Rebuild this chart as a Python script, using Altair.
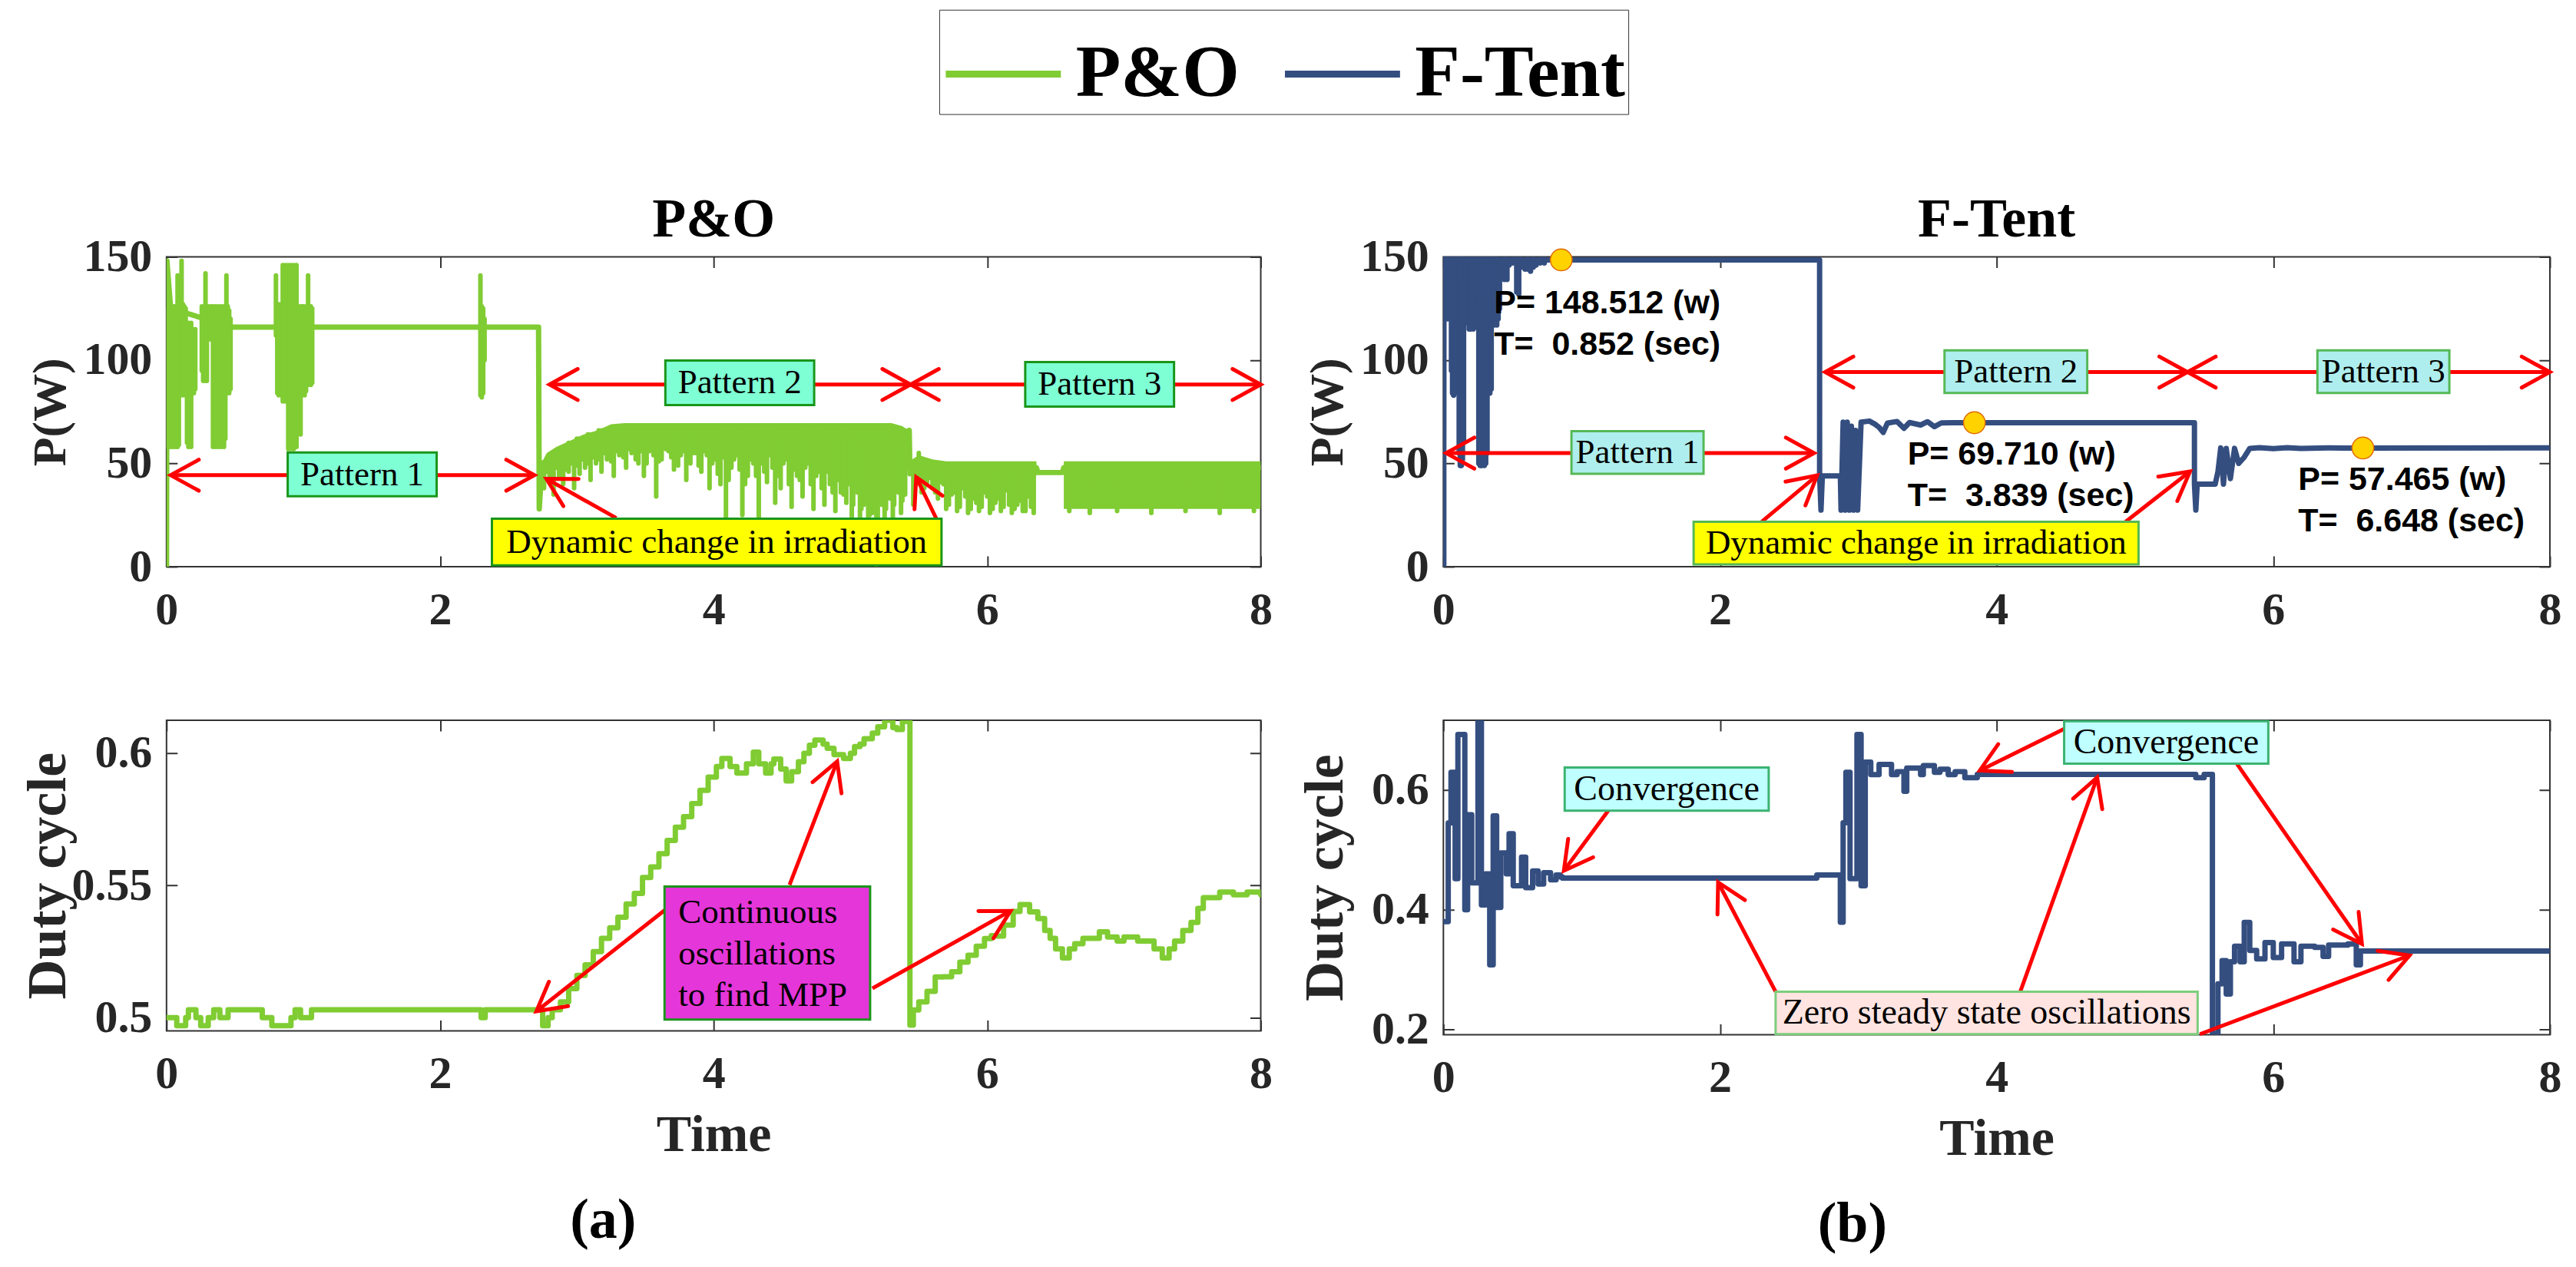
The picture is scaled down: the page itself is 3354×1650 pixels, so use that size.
import math
import altair as alt
import pandas as pd

# ---------------- data ----------------
SERIES = ["P&O", "F-Tent"]
X_TICKS = [0, 2, 4, 6, 8]
P_TICKS = [0, 50, 100, 150]
PO_D_TICKS = [0.5, 0.55, 0.6]
FT_D_TICKS = [0.2, 0.4, 0.6]
X_DOMAIN = [0, 8]
P_DOMAIN = [0, 150]
PO_D_DOMAIN = [0.495, 0.6125]
FT_D_DOMAIN = [0.191, 0.717]

# P&O power: main trace (t, W)
PO_P_LINE = [(0.0, 0), (0.003, 148), (0.03, 125), (0.48, 116), (2.72, 116), (2.725, 28),
             (2.745, 50), (3.3, 66), (5.4, 62), (5.43, 66), (5.435, 45), (5.5, 48),
             (6.36, 48), (6.37, 45.6), (6.55, 45.6), (6.56, 48), (8.0, 48)]
# P&O power: fast oscillation strokes (t, high, low)
PO_BURSTS = [
    (0.003, 148, 58), (0.012, 125, 58), (0.021, 126, 59), (0.030, 124, 58), (0.039, 126, 60),
    (0.048, 125, 58), (0.057, 126, 59), (0.066, 124, 58), (0.075, 126, 60), (0.081, 141, 58),
    (0.090, 125, 59), (0.100, 127, 83), (0.110, 148, 84), (0.120, 127, 83), (0.130, 126, 85),
    (0.140, 125, 83), (0.150, 118, 60), (0.160, 118, 58), (0.170, 117, 59), (0.180, 118, 58),
    (0.190, 115, 85), (0.200, 114, 84), (0.210, 115, 86), (0.258, 126, 95), (0.268, 125, 90),
    (0.278, 126, 92), (0.285, 142, 90), (0.295, 126, 90), (0.305, 126, 118), (0.315, 125, 110),
    (0.325, 126, 118), (0.340, 126, 58), (0.350, 125, 59), (0.360, 126, 58), (0.370, 124, 60),
    (0.380, 126, 58), (0.390, 125, 59), (0.400, 126, 58), (0.410, 124, 60), (0.420, 126, 58),
    (0.430, 125, 62), (0.438, 141, 84), (0.448, 126, 85), (0.458, 124, 84), (0.468, 120, 86),
    (0.800, 141, 112), (0.810, 126, 84), (0.820, 127, 83), (0.830, 126, 85), (0.840, 127, 83),
    (0.850, 146, 80), (0.860, 145, 82), (0.870, 146, 80), (0.880, 140, 81), (0.890, 146, 57),
    (0.900, 145, 58), (0.910, 146, 57), (0.920, 144, 60), (0.930, 146, 57), (0.940, 145, 59),
    (0.950, 146, 58), (0.960, 126, 80), (0.970, 126, 82), (0.980, 125, 64), (0.990, 126, 83),
    (1.000, 126, 84), (1.010, 125, 83), (1.020, 126, 85), (1.035, 141, 88), (1.045, 126, 90),
    (1.055, 126, 88), (1.065, 125, 89),
    (2.295, 141, 83), (2.305, 126, 82), (2.315, 125, 84), (2.325, 120, 100),
]
# P&O power: dense oscillation bands (segment, t, high, low)
PO_BANDS = [
    ("p2", 2.74, 50, 44), ("p2", 2.78, 55, 45), ("p2", 2.85, 58, 47), ("p2", 2.95, 61, 50),
    ("p2", 3.05, 64, 53), ("p2", 3.15, 66, 56), ("p2", 3.25, 69, 58), ("p2", 3.35, 69.5, 59),
    ("p2", 4.0, 69.5, 60), ("p2", 4.5, 69.5, 60), ("p2", 5.0, 69.5, 58), ("p2", 5.3, 69.5, 56),
    ("p2", 5.38, 68, 52), ("p2", 5.42, 66, 48),
    ("p3a", 5.43, 51, 44), ("p3a", 5.5, 54, 45), ("p3a", 5.6, 52, 44), ("p3a", 5.7, 51, 42),
    ("p3a", 6.0, 51, 40), ("p3a", 6.3, 51, 40), ("p3a", 6.36, 51, 44),
    ("p3b", 6.56, 51, 28), ("p3b", 7.0, 51, 28), ("p3b", 7.5, 51, 28), ("p3b", 8.0, 51, 28),
]
# P&O power: downward spikes (t, top, low)
PO_DIPS = [
    (2.76, 50, 38), (2.80, 52, 42), (2.83, 54, 35), (2.87, 56, 44), (2.90, 58, 40), (2.94, 60, 46),
    (2.98, 60, 38), (3.02, 62, 45), (3.06, 62, 48), (3.10, 64, 42), (3.14, 64, 50), (3.18, 66, 46),
    (3.22, 66, 52), (3.27, 66, 44), (3.31, 66, 54), (3.36, 66, 48), (3.40, 66, 55), (3.45, 66, 50),
    (3.49, 66, 44), (3.53, 66, 56), (3.58, 66, 34), (3.62, 66, 52), (3.67, 66, 56), (3.71, 66, 47),
    (3.76, 66, 54), (3.80, 66, 42), (3.85, 66, 55), (3.89, 66, 49), (3.93, 66, 56), (3.97, 66, 38),
    (4.01, 66, 52), (4.05, 66, 40), (4.09, 66, 24), (4.13, 66, 48), (4.17, 66, 54), (4.21, 66, 25),
    (4.25, 66, 44), (4.29, 66, 50), (4.33, 66, 23), (4.37, 66, 46), (4.41, 66, 54), (4.45, 66, 31),
    (4.49, 66, 38), (4.53, 66, 52), (4.57, 66, 29), (4.61, 66, 44), (4.65, 66, 34), (4.69, 66, 50),
    (4.73, 66, 28), (4.77, 66, 46), (4.81, 66, 30), (4.85, 66, 40), (4.89, 66, 27), (4.93, 66, 36),
    (4.97, 66, 31), (5.01, 66, 8), (5.04, 66, 42), (5.07, 66, 12), (5.10, 66, 30), (5.13, 66, 3),
    (5.16, 66, 26), (5.19, 66, 1), (5.22, 66, 34), (5.25, 66, 18), (5.28, 66, 38), (5.31, 66, 22),
    (5.34, 66, 40), (5.37, 66, 26), (5.40, 66, 35),
    (5.46, 48, 30), (5.50, 55, 42), (5.54, 48, 38), (5.58, 48, 43), (5.62, 48, 36), (5.66, 48, 41),
    (5.70, 48, 28), (5.74, 48, 35), (5.78, 48, 27), (5.82, 48, 38), (5.86, 48, 26), (5.90, 48, 33),
    (5.94, 48, 27), (5.98, 48, 36), (6.02, 48, 26), (6.06, 48, 31), (6.10, 48, 27), (6.14, 48, 37),
    (6.18, 48, 26), (6.22, 48, 30), (6.26, 48, 27), (6.30, 48, 34), (6.34, 48, 26),
    (6.60, 40, 27), (6.75, 40, 26), (6.95, 40, 27), (7.2, 40, 26), (7.45, 40, 27), (7.7, 40, 26),
    (7.95, 40, 27),
]
# P&O power: shallower spikes between the deep ones (t, top, low)
PO_DIPS2 = [
    (2.78, 52, 46), (2.85, 56, 48), (2.92, 58, 47), (2.96, 60, 50), (3.00, 62, 49), (3.04, 62, 52),
    (3.08, 64, 50), (3.12, 64, 53), (3.16, 66, 52), (3.20, 66, 55), (3.25, 66, 51), (3.29, 66, 56),
    (3.34, 66, 53), (3.38, 66, 57), (3.43, 66, 52), (3.47, 66, 56), (3.51, 66, 50), (3.56, 66, 54),
    (3.60, 66, 51), (3.65, 66, 57), (3.69, 66, 53), (3.74, 66, 49), (3.78, 66, 56), (3.83, 66, 50),
    (3.87, 66, 55), (3.91, 66, 46), (3.95, 66, 54), (3.99, 66, 50), (4.03, 66, 45), (4.07, 66, 53),
    (4.11, 66, 42), (4.15, 66, 52), (4.19, 66, 47), (4.23, 66, 40), (4.27, 66, 52), (4.31, 66, 44),
    (4.35, 66, 50), (4.39, 66, 41), (4.43, 66, 48), (4.47, 66, 44), (4.51, 66, 50), (4.55, 66, 40),
    (4.59, 66, 47), (4.63, 66, 42), (4.67, 66, 48), (4.71, 66, 40), (4.75, 66, 44), (4.79, 66, 38),
    (4.83, 66, 46), (4.87, 66, 36), (4.91, 66, 42), (4.95, 66, 35), (4.99, 66, 40), (5.02, 66, 30),
    (5.05, 66, 36), (5.08, 66, 28), (5.11, 66, 34), (5.14, 66, 25), (5.17, 66, 32), (5.20, 66, 24),
    (5.23, 66, 30), (5.26, 66, 28), (5.29, 66, 33), (5.32, 66, 30), (5.35, 66, 36), (5.38, 66, 32),
    (5.48, 48, 40), (5.52, 48, 36), (5.56, 48, 41), (5.60, 48, 38), (5.64, 48, 33), (5.68, 48, 40),
    (5.72, 48, 30), (5.76, 48, 36), (5.80, 48, 29), (5.84, 48, 34), (5.88, 48, 28), (5.92, 48, 31),
    (5.96, 48, 29), (6.00, 48, 34), (6.04, 48, 28), (6.08, 48, 33), (6.12, 48, 29), (6.16, 48, 30),
    (6.20, 48, 28), (6.24, 48, 32), (6.28, 48, 27), (6.32, 48, 29),
]

# P&O duty cycle (step-after: t, duty)
PO_DUTY = [
    (0.0, 0.5), (0.075, 0.497), (0.14, 0.5), (0.16, 0.503), (0.215, 0.5), (0.25, 0.497),
    (0.305, 0.5), (0.345, 0.503), (0.39, 0.5), (0.45, 0.503), (0.70, 0.5), (0.77, 0.497),
    (0.91, 0.5), (0.94, 0.503), (0.98, 0.5), (1.06, 0.503), (2.30, 0.5), (2.33, 0.503),
    (2.75, 0.497), (2.79, 0.5), (2.82, 0.503), (2.88, 0.506), (2.94, 0.511), (3.0, 0.516),
    (3.06, 0.52), (3.12, 0.525), (3.18, 0.53), (3.24, 0.534), (3.30, 0.538), (3.36, 0.543),
    (3.42, 0.547), (3.48, 0.553), (3.54, 0.557), (3.60, 0.562), (3.66, 0.567), (3.72, 0.572),
    (3.78, 0.576), (3.84, 0.581), (3.90, 0.586), (3.96, 0.591), (4.02, 0.595), (4.06, 0.598),
    (4.12, 0.595), (4.17, 0.5925), (4.24, 0.596), (4.29, 0.6004), (4.33, 0.596), (4.38, 0.5925),
    (4.42, 0.596), (4.44, 0.5978), (4.49, 0.594), (4.53, 0.5895), (4.57, 0.593), (4.62, 0.5968),
    (4.66, 0.6), (4.70, 0.603), (4.74, 0.605), (4.80, 0.6035), (4.83, 0.6019), (4.88, 0.5995),
    (4.95, 0.598), (5.0, 0.6), (5.03, 0.6025), (5.07, 0.6035), (5.10, 0.6055), (5.16, 0.6076),
    (5.20, 0.61), (5.25, 0.6125), (5.31, 0.6097), (5.34, 0.609), (5.38, 0.612), (5.435, 0.4972),
    (5.46, 0.5029), (5.50, 0.506), (5.56, 0.51), (5.62, 0.5154), (5.68, 0.5155), (5.74, 0.5174),
    (5.80, 0.521), (5.86, 0.5236), (5.92, 0.527), (5.98, 0.5299), (6.03, 0.531), (6.07, 0.5309),
    (6.12, 0.535), (6.19, 0.5402), (6.24, 0.5428), (6.31, 0.54), (6.37, 0.5375), (6.42, 0.533),
    (6.46, 0.53), (6.50, 0.526), (6.55, 0.5226), (6.60, 0.526), (6.64, 0.528), (6.70, 0.53),
    (6.82, 0.5325), (6.88, 0.5305), (6.95, 0.529), (7.0, 0.5305), (7.1, 0.529), (7.22, 0.526),
    (7.28, 0.5226), (7.33, 0.526), (7.37, 0.529), (7.43, 0.533), (7.49, 0.536), (7.54, 0.5413),
    (7.58, 0.5454), (7.70, 0.5475), (7.80, 0.5465), (7.90, 0.5475), (8.0, 0.5465),
]

# F-Tent power: early search strokes (t, high, low)
FT_BURSTS = [
    (0.003, 149, 0), (0.012, 149, 140), (0.022, 149, 125), (0.030, 149, 120), (0.040, 148, 140),
    (0.050, 149, 130), (0.058, 149, 95), (0.066, 148, 84), (0.074, 149, 83), (0.082, 148, 84),
    (0.090, 149, 86), (0.098, 148, 95), (0.106, 149, 120), (0.114, 149, 55), (0.122, 148, 49),
    (0.130, 149, 49), (0.138, 148, 52), (0.146, 149, 60), (0.156, 148, 145), (0.166, 149, 140),
    (0.176, 149, 118), (0.186, 148, 115), (0.196, 149, 115), (0.206, 148, 117), (0.216, 149, 115),
    (0.226, 148, 116), (0.236, 149, 118), (0.246, 148, 130), (0.256, 149, 50), (0.266, 148, 49),
    (0.276, 149, 49), (0.286, 148, 50), (0.296, 149, 49), (0.306, 148, 50), (0.316, 149, 55),
    (0.326, 148, 130), (0.336, 149, 84), (0.346, 148, 86), (0.356, 149, 117), (0.366, 148, 117),
    (0.376, 149, 118), (0.386, 148, 117), (0.396, 149, 120), (0.406, 148, 125), (0.420, 148, 145),
    (0.440, 149, 139), (0.450, 148, 140), (0.460, 149, 139), (0.475, 148, 146), (0.500, 149, 147),
    (0.530, 149, 133), (0.545, 148, 132), (0.560, 149, 145), (0.590, 148, 144), (0.610, 149, 144),
    (0.630, 148, 143), (0.650, 149, 145), (0.670, 148, 146), (0.700, 149, 147), (0.730, 149, 147),
]
# F-Tent power: main trace (t, W)
FT_P_LINE = [
    (0.0, 0), (0.003, 149), (0.3, 148.8), (0.76, 148.5), (2.72, 148.5), (2.72, 44), (2.73, 27.4),
    (2.74, 44), (2.87, 44), (2.875, 27.4), (2.89, 70), (2.905, 27.4), (2.92, 70), (2.935, 27.4),
    (2.95, 68), (2.965, 27.4), (2.98, 66), (2.995, 27.4), (3.02, 70), (3.08, 70.5), (3.12, 69),
    (3.15, 67.5), (3.18, 65), (3.21, 69.5), (3.28, 70.3), (3.33, 67), (3.37, 69.8), (3.45, 68.6),
    (3.5, 70.2), (3.55, 67.8), (3.6, 69.6), (3.7, 69.7), (5.43, 69.7), (5.43, 40), (5.44, 27.4),
    (5.45, 40), (5.58, 40), (5.60, 46), (5.62, 57.5), (5.64, 40), (5.66, 57.3), (5.69, 42.7),
    (5.72, 57.3), (5.75, 50), (5.79, 53), (5.83, 57.3), (5.9, 57.6), (6.0, 57.2), (6.1, 57.6),
    (6.2, 57.3), (6.4, 57.5), (6.648, 57.465), (8.0, 57.5),
]
FT_MARK_T = [0.852, 3.839, 6.648]
FT_MARK_P = [148.512, 69.710, 57.465]
FT_MARK_TEXT = ["P= 148.512 (w)\nT=\u00a0 0.852 (sec)",
                "P= 69.710 (w)\nT=\u00a0 3.839 (sec)",
                "P= 57.465 (w)\nT=\u00a0 6.648 (sec)"]
FT_MARK_TEXT_T = [0.366, 3.356, 6.18]
FT_MARK_TEXT_P = [127.4, 54.4, 42.0]   # first line

# F-Tent duty cycle (step-after: t, duty)
FT_DUTY = [
    (0.0, 0.38), (0.035, 0.545), (0.055, 0.63), (0.085, 0.452), (0.105, 0.693), (0.155, 0.40),
    (0.175, 0.559), (0.205, 0.445), (0.25, 0.716), (0.275, 0.408), (0.305, 0.46), (0.335, 0.308),
    (0.36, 0.557), (0.385, 0.404), (0.415, 0.495), (0.455, 0.46), (0.475, 0.527), (0.505, 0.44),
    (0.565, 0.488), (0.595, 0.437), (0.645, 0.465), (0.685, 0.443), (0.725, 0.462), (0.775, 0.45),
    (0.815, 0.458), (0.845, 0.455), (0.86, 0.453), (2.70, 0.458), (2.87, 0.379), (2.89, 0.5455),
    (2.91, 0.63), (2.94, 0.452), (2.99, 0.693), (3.02, 0.44), (3.05, 0.647), (3.09, 0.626),
    (3.15, 0.643), (3.24, 0.626), (3.28, 0.631), (3.33, 0.598), (3.35, 0.637), (3.45, 0.626),
    (3.47, 0.641), (3.55, 0.63), (3.59, 0.635), (3.65, 0.626), (3.70, 0.631), (3.77, 0.621),
    (3.86, 0.6263), (5.44, 0.621), (5.50, 0.6263), (5.56, 0.192), (5.60, 0.276), (5.63, 0.315),
    (5.66, 0.259), (5.69, 0.313), (5.72, 0.339), (5.76, 0.313), (5.79, 0.379), (5.83, 0.332),
    (5.88, 0.318), (5.94, 0.345), (6.00, 0.32), (6.06, 0.343), (6.15, 0.313), (6.20, 0.339),
    (6.30, 0.337), (6.36, 0.322), (6.40, 0.341), (6.54, 0.343), (6.60, 0.308), (6.63, 0.331),
    (8.0, 0.331),
]

# annotation boxes (label, x1, x2, y1, y2, fill, stroke)
TL_BOXES = [("Pattern 1", 0.886, 1.975, 34.1, 55.3, "#7FFFD4", "#1A961A"),
            ("Pattern 2", 3.647, 4.735, 78.3, 99.8, "#7FFFD4", "#1A961A"),
            ("Pattern 3", 6.278, 7.366, 77.5, 99.1, "#7FFFD4", "#1A961A"),
            ("Dynamic change in irradiation", 2.379, 5.666, 0.7, 23.3, "#FFFF00", "#1A961A")]
TR_BOXES = [("Pattern 1", 0.926, 1.881, 45.0, 65.6, "#AFEEEE", "#55B855"),
            ("Pattern 2", 3.623, 4.655, 84.1, 104.7, "#AFEEEE", "#55B855"),
            ("Pattern 3", 6.319, 7.273, 84.1, 104.7, "#AFEEEE", "#55B855"),
            ("Dynamic change in irradiation", 1.809, 5.026, 1.1, 21.8, "#FFFF00", "#55B855")]
BL_BOXES = [("", 3.641, 5.144, 0.4993, 0.5496, "#E536D9", "#1A961A")]
BL_BOX_TEXT = ["Continuous\noscillations\nto find MPP"]
BL_BOX_TEXT_T = [3.742]
BL_BOX_TEXT_D = [0.5398]   # first line
BR_BOXES = [("Convergence", 0.877, 2.352, 0.5658, 0.638, "#BFFFFF", "#3CB371"),
            ("Convergence", 4.488, 5.964, 0.6444, 0.7153, "#BFFFFF", "#3CB371"),
            ("Zero steady state oscillations", 2.402, 5.453, 0.192, 0.263, "#FFE4E1", "#7CCD7C")]

# arrows (x_tail, y_tail, x_tip, y_tip, double_headed)
TL_ARROWS = [(0.03, 44.3, 2.69, 44.3, True), (2.8, 88.2, 5.44, 88.2, True),
             (5.44, 88.2, 8.0, 88.2, True), (3.288, 23.6, 2.777, 42.6, False),
             (5.633, 22.6, 5.481, 43.4, False)]
TR_ARROWS = [(0.02, 55.0, 2.68, 55.0, True), (2.76, 94.2, 5.38, 94.2, True),
             (5.38, 94.2, 8.0, 94.2, True), (2.302, 21.8, 2.702, 44.2, False),
             (4.932, 21.8, 5.398, 46.1, False)]
BL_ARROWS = [(3.641, 0.5406, 2.704, 0.5024, False), (4.555, 0.5502, 4.903, 0.5969, False),
             (5.161, 0.5111, 6.171, 0.5404, False)]
BR_ARROWS = [(1.209, 0.571, 0.871, 0.4653, False), (4.488, 0.7024, 3.878, 0.6329, False),
             (5.736, 0.6444, 6.641, 0.3429, False), (2.402, 0.263, 1.986, 0.4459, False),
             (4.161, 0.2566, 4.727, 0.6213, False), (5.47, 0.192, 6.985, 0.3236, False)]

# ---------------- styling ----------------
GREEN = "#80CC33"
BLUE = "#344E80"
RED = "#FF0000"
INK = "#262626"
FRAME = "#333333"
SERIF = "Liberation Serif"
SANS = "Liberation Sans"
TICK_LEN = 14
W_L, W_R = 1426, 1442
H_T, H_BL, H_BR = 404, 405, 410
ARROW_SHAPE = "M -1 -0.55 L 0 0 L -1 0.55"

XS = alt.Scale(domain=X_DOMAIN, nice=False, zero=False)

LEGEND = alt.Legend(orient="none", legendX=1007, legendY=-322, direction="horizontal",
                    title=None, symbolType="stroke", symbolSize=22500, symbolStrokeWidth=9,
                    labelFont=SERIF, labelFontSize=96, labelFontWeight="bold", labelColor="black",
                    labelOffset=15, columnPadding=40, padding=4, strokeColor=FRAME,
                    fillColor="white", labelLimit=1000, symbolOpacity=1)
COLOR_SCALE = alt.Scale(domain=SERIES, range=[GREEN, BLUE])


def x_axis(H, title):
    kw = dict(values=X_TICKS, format="d", grid=True, gridColor=FRAME, gridWidth=2,
              gridDash=[TICK_LEN, H - 2 * TICK_LEN], ticks=False, tickSize=0, domain=False,
              labelPadding=27, labelFontSize=60, labelFont=SERIF, labelFontWeight="bold",
              labelColor=INK, labelFlush=False, labelOverlap=False, title=title)
    if title:
        kw.update(titleFont=SERIF, titleFontSize=68, titleFontWeight="bold", titleColor=INK,
                  titleBaseline="alphabetic", titleY=156)
    return alt.Axis(**kw)


def y_axis(W, H, values, fmt, title, title_size):
    return alt.Axis(values=values, format=fmt, grid=True, gridColor=FRAME, gridWidth=2,
                    gridDash=[TICK_LEN, W - 2 * TICK_LEN], ticks=False, tickSize=0, domain=False,
                    labelPadding=19, labelFontSize=60, labelFont=SERIF, labelFontWeight="bold",
                    labelColor=INK, labelFlush=False, labelOverlap=False, title=title,
                    titleFont=SERIF, titleFontSize=title_size, titleFontWeight="bold",
                    titleColor=INK, titleAngle=270, titleAlign="center",
                    titleBaseline="alphabetic", titleX=-132, titleY=H / 2)


class Panel:
    def __init__(self, W, H, ydom, yvals, yfmt, ytitle, ytitle_size, xtitle):
        self.W, self.H, self.ydom = W, H, ydom
        self.xax = x_axis(H, xtitle)
        self.yax = y_axis(W, H, yvals, yfmt, ytitle, ytitle_size)
        self.ys = alt.Scale(domain=ydom, nice=False, zero=False)

    def x(self, f):
        return alt.X(f"{f}:Q", scale=XS, axis=self.xax)

    def y(self, f):
        return alt.Y(f"{f}:Q", scale=self.ys, axis=self.yax)

    def line(self, points, name, width, interp="linear", legend=False):
        df = pd.DataFrame(points, columns=["t", "v"])
        df["i"] = range(len(df))
        df["series"] = name
        color = alt.Color("series:N", scale=COLOR_SCALE, legend=LEGEND) if legend else \
            alt.value(GREEN if name == "P&O" else BLUE)
        return alt.Chart(df).mark_line(strokeWidth=width, strokeJoin="round", strokeCap="round",
                                       interpolate=interp, clip=True).encode(
            x=self.x("t"), y=self.y("v"), order="i:Q", color=color)

    def strokes(self, rows, color, width):
        df = pd.DataFrame(rows, columns=["t", "v", "v2"])
        return alt.Chart(df).mark_rule(color=color, strokeWidth=width, strokeCap="round",
                                       clip=True).encode(x=self.x("t"), y=self.y("v"), y2="v2:Q")

    def band(self, rows, color):
        df = pd.DataFrame(rows, columns=["seg", "t", "v", "v2"])
        return alt.Chart(df).mark_area(color=color, opacity=1, clip=True).encode(
            x=self.x("t"), y=self.y("v"), y2="v2:Q", detail="seg:N")

    def arrows(self, arrows):
        sx = self.W / (X_DOMAIN[1] - X_DOMAIN[0])
        sy = self.H / (self.ydom[1] - self.ydom[0])
        shafts, heads = [], []
        for (x1, y1, x2, y2, both) in arrows:
            shafts.append({"t": x1, "v": y1, "t2": x2, "v2": y2})
            ang = math.degrees(math.atan2(-(y2 - y1) * sy, (x2 - x1) * sx)) % 360
            heads.append({"t": x2, "v": y2, "ang": ang})
            if both:
                heads.append({"t": x1, "v": y1, "ang": (ang + 180) % 360})
        shaft = alt.Chart(pd.DataFrame(shafts)).mark_rule(color=RED, strokeWidth=5).encode(
            x=self.x("t"), y=self.y("v"), x2="t2:Q", y2="v2:Q")
        head = alt.Chart(pd.DataFrame(heads)).mark_point(
            shape=ARROW_SHAPE, filled=False, size=5400, strokeWidth=5, color=RED, opacity=1,
            strokeCap="round").encode(
            x=self.x("t"), y=self.y("v"), angle=alt.Angle("ang:Q", scale=None))
        return [shaft, head]

    def boxes(self, boxes, font_size):
        df = pd.DataFrame(boxes, columns=["label", "t", "t2", "v", "v2", "fill", "stroke"])
        df["tc"] = (df["t"] + df["t2"]) / 2
        df["vc"] = (df["v"] + df["v2"]) / 2
        rect = alt.Chart(df).mark_rect(strokeWidth=3).encode(
            x=self.x("t"), y=self.y("v"), x2="t2:Q", y2="v2:Q",
            fill=alt.Fill("fill:N", scale=None), stroke=alt.Stroke("stroke:N", scale=None))
        text = alt.Chart(df).mark_text(font=SERIF, fontSize=font_size, color="black",
                                       baseline="middle", align="center").encode(
            x=self.x("tc"), y=self.y("vc"), text="label:N")
        return [rect, text]

    def texts(self, ts, vs, labels, font, size, weight, align):
        df = pd.DataFrame({"t": ts, "v": vs, "label": labels})
        return alt.Chart(df).mark_text(font=font, fontSize=size, fontWeight=weight,
                                       color="black", align=align, baseline="middle",
                                       lineBreak="\n", lineHeight=54).encode(
            x=self.x("t"), y=self.y("v"), text="label:N")

    def markers(self, ts, vs):
        df = pd.DataFrame({"t": ts, "v": vs})
        return alt.Chart(df).mark_point(shape="circle", filled=True, size=800, fill="#FFD200",
                                        stroke="#E06A00", strokeWidth=1.5, opacity=1).encode(
            x=self.x("t"), y=self.y("v"))


def top_title(text):
    return alt.TitleParams(text, font=SERIF, fontSize=72, fontWeight="bold", color="black",
                           baseline="alphabetic", offset=24, dy=100, frame="group",
                           anchor="middle")


def bottom_title(text, dx):
    return alt.TitleParams(text, orient="bottom", font=SERIF, fontSize=74, fontWeight="bold",
                           color="black", baseline="alphabetic", offset=100, frame="group",
                           anchor="middle", dx=dx)


# ---------------- panel (a) top: P&O power ----------------
A = Panel(W_L, H_T, P_DOMAIN, P_TICKS, "d", "P(W)", 62, None)
tl = alt.layer(
    A.band(PO_BANDS, GREEN),
    A.strokes(PO_BURSTS, GREEN, 6),
    A.strokes(PO_DIPS, GREEN, 6),
    A.strokes(PO_DIPS2, GREEN, 6),
    A.line(PO_P_LINE, "P&O", 7, legend=True),
    *A.arrows(TL_ARROWS),
    *A.boxes(TL_BOXES, 45),
).properties(width=W_L, height=H_T, title=top_title("P&O"))

# ---------------- panel (b) top: F-Tent power ----------------
B = Panel(W_R, H_T, P_DOMAIN, P_TICKS, "d", "P(W)", 62, None)
tr = alt.layer(
    B.strokes(FT_BURSTS, BLUE, 7),
    B.line(FT_P_LINE, "F-Tent", 7, legend=True),
    *B.arrows(TR_ARROWS),
    *B.boxes(TR_BOXES, 45),
    B.markers(FT_MARK_T, FT_MARK_P),
    B.texts(FT_MARK_TEXT_T, FT_MARK_TEXT_P, FT_MARK_TEXT, SANS, 43, "bold", "left"),
).properties(width=W_R, height=H_T, title=top_title("F-Tent"))

# ---------------- panel (a) bottom: P&O duty ----------------
C = Panel(W_L, H_BL, PO_D_DOMAIN, PO_D_TICKS, ".2~f", "Duty cycle", 72, "Time")
bl = alt.layer(
    C.line(PO_DUTY, "P&O", 7, interp="step-after"),
    *C.arrows(BL_ARROWS),
    C.boxes(BL_BOXES, 45)[0],
    C.texts(BL_BOX_TEXT_T, BL_BOX_TEXT_D, BL_BOX_TEXT, SERIF, 45, "normal", "left"),
).properties(width=W_L, height=H_BL, title=bottom_title("(a)", -144))

# ---------------- panel (b) bottom: F-Tent duty ----------------
D = Panel(W_R, H_BR, FT_D_DOMAIN, FT_D_TICKS, ".1f", "Duty cycle", 72, "Time")
br = alt.layer(
    D.line(FT_DUTY, "F-Tent", 7, interp="step-after"),
    *D.arrows(BR_ARROWS),
    *D.boxes(BR_BOXES, 46),
).properties(width=W_R, height=H_BR, title=bottom_title("(b)", -188))

chart = alt.concat(
    tl, tr, bl, br, columns=2, align="none", bounds="flush",
    spacing={"row": 200, "column": 238},
).properties(
    padding={"left": 18, "top": 3, "right": 10, "bottom": 10},
    background="white",
).configure_view(stroke=FRAME, strokeWidth=2)

chart.save("out.html", embed_options={"renderer": "svg", "actions": False})
